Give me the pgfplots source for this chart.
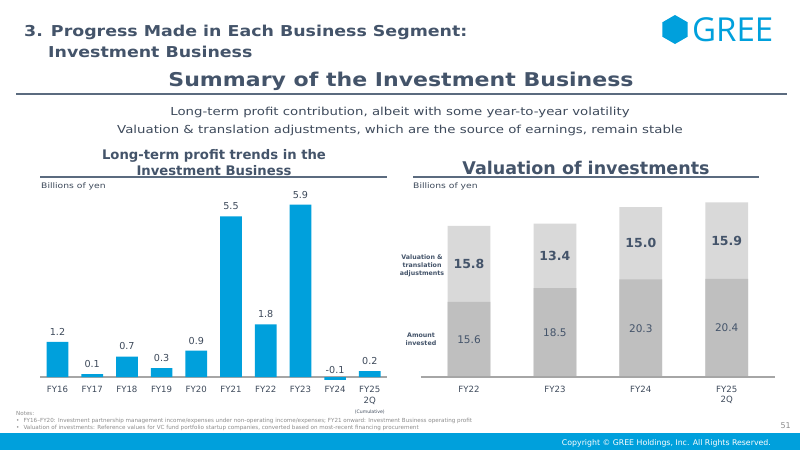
\documentclass[border=0pt]{standalone}
\usepackage{pgfplots}
\pgfplotsset{compat=1.18}
\usepackage{pgfplotstable}
\usepackage{fontspec}
\setmainfont{DejaVu Sans}
\newfontfamily\logofont{Open Sans}
\newfontfamily\headfont[FakeStretch=1.16]{DejaVu Sans}
\newfontfamily\subfont[FakeStretch=1.21]{DejaVu Sans}

\definecolor{slate}{HTML}{44546A}
\definecolor{bodyc}{HTML}{3E4A5B}
\definecolor{greeblue}{HTML}{00A0DC}
\definecolor{barblue}{HTML}{00A0DC}
\definecolor{invgray}{HTML}{BFBFBF}
\definecolor{valgray}{HTML}{D9D9D9}
\definecolor{axisgray}{HTML}{A6A6A6}
\definecolor{rulec}{HTML}{5B6B7F}
\definecolor{notec}{HTML}{8C8C8C}

\newcommand{\fs}[2]{\fontsize{#1}{#2}\selectfont}

% Investment Business profit, billions of yen
\pgfplotstableread{
x val
0 1.2
1 0.1
2 0.7
3 0.3
4 0.9
5 5.5
6 1.8
7 5.9
8 -0.1
9 0.2
}\profittable

% Valuation of investments: amount invested and valuation/translation adjustments
\pgfplotstableread{
x inv adj
0 15.6 15.8
1 18.5 13.4
2 20.3 15.0
3 20.4 15.9
}\valtable

\begin{document}
\begin{tikzpicture}[x=1pt,y=1pt]
\path[use as bounding box, fill=white] (0,0) rectangle (800,-450);

% ---- header ----
\node[anchor=base west, inner sep=0, text=slate, font=\headfont\fs{15}{18}\bfseries] at (24,-36.5) {3. Progress Made in Each Business Segment:};
\node[anchor=base west, inner sep=0, text=slate, font=\headfont\fs{15}{18}\bfseries] at (48,-57) {Investment Business};

% logo
\fill[greeblue] (675,-29.5) +(90:14.5) -- +(150:14.5) -- +(210:14.5) -- +(270:14.5) -- +(330:14.5) -- +(30:14.5) -- cycle;
\node[anchor=base west, inner sep=0, text=greeblue, font=\logofont\fs{33}{36}] at (692,-41) {GREE};

\node[anchor=base, inner sep=0, text=slate, font=\headfont\fs{19}{22}\bfseries] at (401,-86.5) {Summary of the Investment Business};
\draw[rulec, line width=1.5pt] (16,-94) -- (787,-94);

\node[anchor=base, inner sep=0, text=bodyc, font=\subfont\fs{11}{13}] at (400,-115) {Long-term profit contribution, albeit with some year-to-year volatility};
\node[anchor=base, inner sep=0, text=bodyc, font=\subfont\fs{11}{13}] at (400,-133.5) {Valuation \& translation adjustments, which are the source of earnings, remain stable};

% ---- left panel titles ----
\node[anchor=base, inner sep=0, text=slate, font=\fs{13.2}{16}\bfseries] at (214,-159) {Long-term profit trends in the};
\node[anchor=base, inner sep=0, text=slate, font=\fs{13.2}{16}\bfseries] at (214,-175.5) {Investment Business};
\draw[rulec, line width=1.2pt] (40,-177) -- (387,-177);
\node[anchor=base west, inner sep=0, text=bodyc, font=\subfont\fs{7.6}{9}] at (41,-188) {Billions of yen};

% ---- right panel titles ----
\node[anchor=base, inner sep=0, text=slate, font=\fs{17.5}{20}\bfseries] at (586,-174) {Valuation of investments};
\draw[rulec, line width=1.2pt] (413,-177) -- (759,-177);
\node[anchor=base west, inner sep=0, text=bodyc, font=\subfont\fs{7.6}{9}] at (413,-188) {Billions of yen};

% ---- left chart ----
\begin{axis}[
  at={(40.15pt,-385.76pt)}, anchor=south west,
  x=34.7pt, y=29.2pt,
  xmin=-0.5, xmax=9.5, ymin=-0.3, ymax=6.2,
  axis x line=middle, axis y line=none,
  axis line style={draw=axisgray, line width=1.4pt, -},
  xtick={0,...,9},
  xticklabels={FY16,FY17,FY18,FY19,FY20,FY21,FY22,FY23,FY24,{FY25\\2Q\\{\fs{4.6}{6}(Cumulative)}}},
  major tick length=0pt,
  xticklabel style={font=\fs{8.6}{10.5}, text=bodyc, align=center, anchor=north, yshift=-6pt},
  clip=false,
  /pgf/number format/assume math mode=true,
]
\addplot[ybar, bar width=21.7pt, bar shift=0pt, fill=barblue, draw=none,
  nodes near coords={\pgfmathprintnumber[fixed,fixed zerofill,precision=1]{\pgfplotspointmeta}},
  nodes near coords align={above},
  every node near coord/.append style={font=\fs{9.6}{11}, text=bodyc, yshift=3pt}]
  table[x=x, y=val] {\profittable};
\end{axis}

% ---- right chart ----
\begin{axis}[
  at={(420.9pt,-377pt)}, anchor=south west,
  x=85.9pt, y=4.81pt,
  xmin=-0.56, xmax=3.56, ymin=0, ymax=40,
  axis x line=bottom, axis y line=none,
  axis line style={draw=axisgray, line width=1.4pt, -},
  xtick={0,1,2,3},
  xticklabels={FY22,FY23,FY24,{FY25\\2Q}},
  major tick length=0pt,
  xticklabel style={font=\fs{8.6}{10.5}, text=bodyc, align=center, anchor=north, yshift=-5.5pt},
  clip=false, axis on top,
  /pgf/number format/assume math mode=true,
]
% total height first, then the invested part over it
\addplot[ybar, bar width=42.7pt, bar shift=0pt, fill=valgray, draw=none]
  table[x=x, y expr=\thisrow{inv}+\thisrow{adj}] {\valtable};
\addplot[ybar, bar width=42.7pt, bar shift=0pt, fill=invgray, draw=none]
  table[x=x, y=inv] {\valtable};
% segment labels, centred in each segment
\addplot[draw=none, mark=none, point meta=\thisrow{inv},
  nodes near coords={\pgfmathprintnumber[fixed,fixed zerofill,precision=1]{\pgfplotspointmeta}},
  nodes near coords align={anchor=center},
  every node near coord/.append style={font=\fs{10.5}{12}, text=slate}]
  table[x=x, y expr=\thisrow{inv}/2] {\valtable};
\addplot[draw=none, mark=none, point meta=\thisrow{adj},
  nodes near coords={\pgfmathprintnumber[fixed,fixed zerofill,precision=1]{\pgfplotspointmeta}},
  nodes near coords align={anchor=center},
  every node near coord/.append style={font=\fs{12.5}{14}\bfseries, text=slate}]
  table[x=x, y expr=\thisrow{inv}+\thisrow{adj}/2] {\valtable};
\end{axis}

\node[align=center, inner sep=0, text=slate, font=\fs{6.3}{8}\bfseries] at (422,-266) {Valuation \&\\translation\\adjustments};
\node[align=center, inner sep=0, text=slate, font=\fs{6.3}{8}\bfseries] at (421,-339) {Amount\\invested};

% ---- notes ----
\node[anchor=base west, inner sep=0, text=notec, font=\fs{5.6}{7}] at (16,-415) {Notes:};
\node[anchor=base west, inner sep=0, text=notec, font=\fs{5.6}{7}] at (16,-422) {\textbullet\hspace{4pt}FY16--FY20: Investment partnership management income/expenses under non-operating income/expenses; FY21 onward: Investment Business operating profit};
\node[anchor=base west, inner sep=0, text=notec, font=\fs{5.6}{7}] at (16,-429) {\textbullet\hspace{4pt}Valuation of investments: Reference values for VC fund portfolio startup companies, converted based on most-recent financing procurement};
\node[anchor=base east, inner sep=0, text=notec, font=\fs{8}{9}] at (791,-428) {51};

% ---- footer ----
\fill[greeblue] (0,-432.5) rectangle (800,-450);
\node[anchor=base east, inner sep=0, text=white, font=\fs{7.8}{9}] at (771,-445) {Copyright \textcopyright{} GREE Holdings, Inc. All Rights Reserved.};
\end{tikzpicture}
\end{document}
